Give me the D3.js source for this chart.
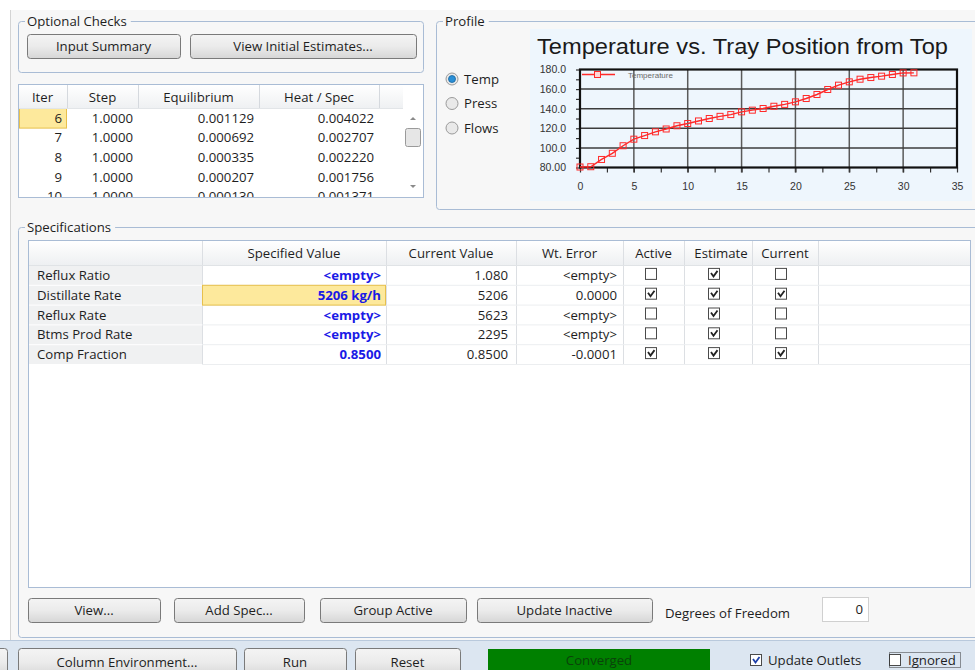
<!DOCTYPE html>
<html>
<head>
<meta charset="utf-8">
<script src="https://cdn.jsdelivr.net/npm/d3@7"></script>
<style>
  body { margin: 0; background: #ffffff; }
  svg { display: block; font-family: "Open Sans", "Noto Sans", sans-serif; }
</style>
</head>
<body>
<svg id="screen" width="975" height="670"></svg>
<script>
// ---- data ----
const temperature = [80.5, 80.8, 88.2, 94.5, 102.2, 108.9, 112.6, 116.4, 119.3, 122.6,
                     124.9, 127.5, 130.0, 132.2, 134.0, 136.8, 138.5, 140.2, 142.5, 144.4,
                     147.0, 150.4, 154.5, 159.6, 164.0, 167.4, 170.1, 171.8, 173.2, 174.9,
                     176.5, 176.6];
const yTicks = [80, 100, 120, 140, 160, 180];
const yTickLabels = ["80.00", "100.0", "120.0", "140.0", "160.0", "180.0"];
const xTicks = [0, 5, 10, 15, 20, 25, 30, 35];

const iterHeaders = ["Iter", "Step", "Equilibrium", "Heat / Spec"];
const iterRows = [
  ["6", "1.0000", "0.001129", "0.004022"],
  ["7", "1.0000", "0.000692", "0.002707"],
  ["8", "1.0000", "0.000335", "0.002220"],
  ["9", "1.0000", "0.000207", "0.001756"],
  ["10", "1.0000", "0.000130", "0.001371"]
];

const specHeaders = ["", "Specified Value", "Current Value", "Wt. Error", "Active", "Estimate", "Current", ""];
const specNames = ["Reflux Ratio", "Distillate Rate", "Reflux Rate", "Btms Prod Rate", "Comp Fraction"];
const specSpecified = ["<empty>", "5206 kg/h", "<empty>", "<empty>", "0.8500"];
const specCurrent = ["1.080", "5206", "5623", "2295", "0.8500"];
const specWtError = ["<empty>", "0.0000", "<empty>", "<empty>", "-0.0001"];
const specActive = [false, true, false, false, true];
const specEstimate = [true, true, true, true, true];
const specCurrentChk = [false, true, false, false, true];

const profileOptions = ["Temp", "Press", "Flows"];
const specButtons = ["View...", "Add Spec...", "Group Active", "Update Inactive"];
const footerButtons = ["Column Environment...", "Run", "Reset"];

const FS = 13.2; // UI font size

// ---- page ----
const svg = d3.select("#screen");
const defs = svg.append("defs");

const btnGrad = defs.append("linearGradient").attr("id", "btnGrad")
    .attr("x1", 0).attr("y1", 0).attr("x2", 0).attr("y2", 1);
btnGrad.append("stop").attr("offset", "0%").attr("stop-color", "#f4f4f4");
btnGrad.append("stop").attr("offset", "50%").attr("stop-color", "#ebebeb");
btnGrad.append("stop").attr("offset", "100%").attr("stop-color", "#d6d6d6");

const hdrGrad = defs.append("linearGradient").attr("id", "hdrGrad")
    .attr("x1", 0).attr("y1", 0).attr("x2", 0).attr("y2", 1);
hdrGrad.append("stop").attr("offset", "0%").attr("stop-color", "#ffffff");
hdrGrad.append("stop").attr("offset", "100%").attr("stop-color", "#eef0f2");

// window body
svg.append("rect").attr("x", 10).attr("y", 10).attr("width", 965).attr("height", 630).attr("fill", "#f7f7f7");
svg.append("line").attr("x1", 10.5).attr("x2", 10.5).attr("y1", 10).attr("y2", 640).attr("stroke", "#d4d4d4");
// footer strip
svg.append("rect").attr("x", 0).attr("y", 640).attr("width", 975).attr("height", 30).attr("fill", "#dce6f1");
svg.append("line").attr("x1", 0).attr("x2", 975).attr("y1", 640.5).attr("y2", 640.5).attr("stroke", "#b9c9dc");

function groupBox(x, y, w, h, label) {
  const g = svg.append("g");
  g.append("rect").attr("x", x + 0.5).attr("y", y + 0.5).attr("width", w).attr("height", h)
    .attr("rx", 3).attr("fill", "none").attr("stroke", "#a9bcd5");
  const t = g.append("text").attr("x", x + 9).attr("y", y + 4.5).attr("font-size", FS)
    .attr("fill", "#1e1e1e").text(label);
  const bb = t.node().getBBox();
  g.insert("rect", "text").attr("x", bb.x - 2).attr("y", y - 2).attr("width", bb.width + 6)
    .attr("height", 5).attr("fill", "#f7f7f7");
  return g;
}

function button(x, y, w, h, label) {
  const g = svg.append("g");
  g.append("rect").attr("x", x + 0.5).attr("y", y + 0.5).attr("width", w).attr("height", h)
    .attr("rx", 3).attr("fill", "url(#btnGrad)").attr("stroke", "#7a7a7a");
  g.append("text").attr("x", x + w / 2).attr("y", y + h / 2 + 4.5).attr("text-anchor", "middle")
    .attr("font-size", FS).attr("fill", "#1e1e1e").text(label);
}

function checkbox(cx, cy, checked, color) {
  const g = svg.append("g");
  g.append("rect").attr("x", cx - 5.5).attr("y", cy - 5.5).attr("width", 11).attr("height", 11)
    .attr("fill", "#ffffff").attr("stroke", "#4a4a4a");
  if (checked) {
    g.append("path").attr("d", `M${cx - 3},${cy - 1} L${cx - 0.5},${cy + 2.5} L${cx + 3.5},${cy - 3}`)
      .attr("fill", "none").attr("stroke", color || "#222").attr("stroke-width", 1.8);
  }
}

// ---- Optional Checks ----
groupBox(18, 21, 405, 51, "Optional Checks");
button(27, 34, 153, 24, "Input Summary");
button(190, 34, 226, 24, "View Initial Estimates...");

// ---- iteration table ----
const itX = [18, 67, 138, 259, 379, 403];
const itTop = 84, itHdrH = 24, itRowH = 19.6;
const itG = svg.append("g");
itG.append("rect").attr("x", 18.5).attr("y", itTop + 0.5).attr("width", 405).attr("height", 113)
  .attr("fill", "#ffffff").attr("stroke", "#a9bcd5");
itG.append("rect").attr("x", 19).attr("y", itTop + 1).attr("width", 384).attr("height", itHdrH)
  .attr("fill", "url(#hdrGrad)");
itG.selectAll("line.hsep").data(itX.slice(1, 5)).join("line")
  .attr("x1", d => d + 0.5).attr("x2", d => d + 0.5)
  .attr("y1", itTop + 1).attr("y2", itTop + itHdrH).attr("stroke", "#d5d9de");
itG.append("line").attr("x1", 19).attr("x2", 403).attr("y1", itTop + itHdrH + 0.5).attr("y2", itTop + itHdrH + 0.5)
  .attr("stroke", "#e2e5e8");
itG.selectAll("text.hdr").data(iterHeaders).join("text")
  .attr("x", (d, i) => (itX[i] + itX[i + 1]) / 2).attr("y", itTop + 18)
  .attr("text-anchor", "middle").attr("font-size", FS).attr("fill", "#1e1e1e").text(d => d);

defs.append("clipPath").attr("id", "itClip").append("rect")
  .attr("x", 19).attr("y", itTop + itHdrH + 1).attr("width", 384).attr("height", 197 - (itTop + itHdrH + 1));
const itBody = itG.append("g").attr("clip-path", "url(#itClip)");
itBody.append("rect").attr("x", 19.5).attr("y", itTop + itHdrH + 0.5).attr("width", 47).attr("height", itRowH)
  .attr("fill", "#fde99c").attr("stroke", "#e7c04c");
iterRows.forEach((row, r) => {
  const yc = itTop + itHdrH + itRowH * r + itRowH / 2;
  itBody.selectAll(null).data(row).join("text")
    .attr("x", (d, i) => itX[i + 1] - 5).attr("y", yc + 5)
    .attr("text-anchor", "end").attr("font-size", FS).attr("fill", "#1e1e1e").text(d => d);
});
// scrollbar
itG.append("path").attr("d", "M410,120 L413,117 L416,120 Z").attr("fill", "#8a8a8a");
itG.append("rect").attr("x", 405.5).attr("y", 128.5).attr("width", 15).attr("height", 18)
  .attr("rx", 2).attr("fill", "#e6e6e6").attr("stroke", "#9a9a9a");
itG.append("path").attr("d", "M410,185 L413,188 L416,185 Z").attr("fill", "#8a8a8a");

// ---- Profile ----
groupBox(436, 21, 545, 188, "Profile");
profileOptions.forEach((lab, i) => {
  const cy = 79 + i * 24.5;
  svg.append("circle").attr("cx", 452).attr("cy", cy).attr("r", 6)
    .attr("fill", "#e9e9e9").attr("stroke", "#9a9a9a");
  if (i === 0) {
    svg.append("circle").attr("cx", 452).attr("cy", cy).attr("r", 3.5).attr("fill", "#2a8fd6")
      .attr("stroke", "#15639e").attr("stroke-width", 0.8);
  }
  svg.append("text").attr("x", 464).attr("y", cy + 4.5).attr("font-size", FS)
    .attr("fill", "#1e1e1e").text(lab);
});

// chart
const chart = svg.append("g").attr("font-family", "'Liberation Sans', Arial, sans-serif");
chart.append("rect").attr("x", 530).attr("y", 29).attr("width", 442).attr("height", 172).attr("fill", "#eef6fd");
chart.append("text").attr("x", 537).attr("y", 54).attr("font-size", 22.5).attr("fill", "#1a1a1a")
  .attr("textLength", 411).attr("lengthAdjust", "spacingAndGlyphs")
  .text("Temperature vs. Tray Position from Top");

const x = d3.scaleLinear().domain([0, 35]).range([580, 957]);
const y = d3.scaleLinear().domain([80, 180]).range([167.5, 69.5]);

// grid
chart.selectAll("line.vg").data(xTicks.slice(1, -1)).join("line")
  .attr("x1", d => x(d)).attr("x2", d => x(d)).attr("y1", y(180)).attr("y2", y(80) + 5)
  .attr("stroke", "#5a5a5a").attr("stroke-width", 1.5);
chart.selectAll("line.hg").data(yTicks.slice(1, -1)).join("line")
  .attr("x1", x(0)).attr("x2", x(35)).attr("y1", d => y(d)).attr("y2", d => y(d))
  .attr("stroke", "#3c3c3c").attr("stroke-width", 1.5);

// axes
const yAxis = chart.append("g").attr("transform", `translate(${x(0)},0)`)
  .call(d3.axisLeft(y).tickValues(d3.range(80, 181, 10)).tickSize(4).tickPadding(10)
    .tickFormat(d => { const k = yTicks.indexOf(d); return k >= 0 ? yTickLabels[k] : ""; }));
const xAxis = chart.append("g").attr("transform", `translate(0,${y(80)})`)
  .call(d3.axisBottom(x).tickValues(d3.range(0, 35.1, 2.5)).tickSize(5).tickPadding(10)
    .tickFormat(d => xTicks.includes(d) ? d : ""));
[yAxis, xAxis].forEach(a => {
  a.select(".domain").remove();
  a.selectAll(".tick line").attr("stroke", "#333").attr("stroke-width", 1.2);
  a.selectAll(".tick text").attr("font-size", 10.5).attr("fill", "#333")
    .attr("font-family", "'Liberation Sans', Arial, sans-serif");
});

chart.append("rect").attr("x", x(0)).attr("y", y(180)).attr("width", x(35) - x(0)).attr("height", y(80) - y(180))
  .attr("fill", "none").attr("stroke", "#111").attr("stroke-width", 2.2);

// series
const line = d3.line().x((d, i) => x(i)).y(d => y(d));
chart.append("path").datum(temperature).attr("d", line)
  .attr("fill", "none").attr("stroke", "#ff2a2a").attr("stroke-width", 1.4);
chart.selectAll("rect.mk").data(temperature).join("rect")
  .attr("x", (d, i) => x(i) - 3).attr("y", d => y(d) - 3).attr("width", 6).attr("height", 6)
  .attr("fill", "none").attr("stroke", "#ff2a2a").attr("stroke-width", 1);

// legend
chart.append("line").attr("x1", 582).attr("x2", 615).attr("y1", 74.5).attr("y2", 74.5)
  .attr("stroke", "#ff2a2a").attr("stroke-width", 1.4);
chart.append("rect").attr("x", 594.5).attr("y", 71.5).attr("width", 6).attr("height", 6)
  .attr("fill", "#ffd6d6").attr("stroke", "#ff2a2a");
chart.append("text").attr("x", 628).attr("y", 77.5).attr("font-size", 8).attr("fill", "#6a6a6a")
  .text("Temperature");

// ---- Specifications ----
groupBox(18, 227, 960, 410, "Specifications");
const spX = [28, 202, 386, 516, 623, 684, 752, 818, 970];
const spTop = 240, spHdrH = 25, spRowH = 19.8;
const spG = svg.append("g");
spG.append("rect").attr("x", 28.5).attr("y", spTop + 0.5).attr("width", 942).attr("height", 347)
  .attr("fill", "#ffffff").attr("stroke", "#a9bcd5");
spG.append("rect").attr("x", 29).attr("y", spTop + 1).attr("width", 941).attr("height", spHdrH - 1)
  .attr("fill", "url(#hdrGrad)");
spG.selectAll("line.sep").data(spX.slice(1, 8)).join("line")
  .attr("x1", d => d + 0.5).attr("x2", d => d + 0.5)
  .attr("y1", spTop + 1).attr("y2", spTop + spHdrH + spRowH * specNames.length)
  .attr("stroke", "#dcdfe3");
specHeaders.forEach((h, i) => {
  if (!h) return;
  defs.append("clipPath").attr("id", "spc" + i).append("rect")
    .attr("x", spX[i] + 1).attr("y", spTop).attr("width", spX[i + 1] - spX[i] - 2).attr("height", spHdrH);
  spG.append("text").attr("clip-path", `url(#spc${i})`)
    .attr("x", (spX[i] + spX[i + 1]) / 2 + (h === "Estimate" ? 3 : 0)).attr("y", spTop + 18)
    .attr("text-anchor", "middle").attr("font-size", FS).attr("fill", "#1e1e1e").text(h);
});
spG.append("line").attr("x1", 29).attr("x2", 970).attr("y1", spTop + spHdrH + 0.5).attr("y2", spTop + spHdrH + 0.5)
  .attr("stroke", "#e0e3e6");

specNames.forEach((name, r) => {
  const y0 = spTop + spHdrH + spRowH * r;
  const yc = y0 + spRowH / 2;
  spG.append("rect").attr("x", 29).attr("y", y0 + 1).attr("width", spX[1] - 29).attr("height", spRowH - 1)
    .attr("fill", "#f0f1f2");
  spG.append("line").attr("x1", spX[1]).attr("x2", 970).attr("y1", y0 + spRowH + 0.5).attr("y2", y0 + spRowH + 0.5)
    .attr("stroke", "#eceef0");
  spG.append("text").attr("x", 37).attr("y", yc + 5).attr("font-size", FS).attr("fill", "#1e1e1e").text(name);
  if (r === 1) {
    spG.append("rect").attr("x", spX[1] + 0.5).attr("y", y0 + 0.5).attr("width", spX[2] - spX[1] - 1).attr("height", spRowH)
      .attr("fill", "#fde99c").attr("stroke", "#e7c04c");
  }
  spG.append("text").attr("x", spX[2] - 5).attr("y", yc + 5).attr("text-anchor", "end")
    .attr("font-size", FS).attr("font-weight", "bold").attr("fill", "#1a1ae6").text(specSpecified[r]);
  spG.append("text").attr("x", spX[3] - 8).attr("y", yc + 5).attr("text-anchor", "end")
    .attr("font-size", FS).attr("fill", "#1e1e1e").text(specCurrent[r]);
  spG.append("text").attr("x", spX[4] - 6).attr("y", yc + 5).attr("text-anchor", "end")
    .attr("font-size", FS).attr("fill", "#1e1e1e").text(specWtError[r]);
  checkbox(651, yc - 1, specActive[r]);
  checkbox(714, yc - 1, specEstimate[r]);
  checkbox(781, yc - 1, specCurrentChk[r]);
});

// spec buttons
const sbX = [[28, 132], [174, 130], [320, 146], [477, 175]];
specButtons.forEach((lab, i) => button(sbX[i][0], 598, sbX[i][1], 24, lab));
svg.append("text").attr("x", 665).attr("y", 618).attr("font-size", FS).attr("fill", "#1e1e1e").text("Degrees of Freedom");
svg.append("rect").attr("x", 822.5).attr("y", 597.5).attr("width", 46).attr("height", 24)
  .attr("fill", "#ffffff").attr("stroke", "#d0d0d0");
svg.append("text").attr("x", 863).attr("y", 614).attr("text-anchor", "end").attr("font-size", FS)
  .attr("fill", "#1e1e1e").text("0");

// ---- footer ----
button(-20, 648, 27, 28, "");
const fbX = [[18, 218], [244, 102], [355, 105]];
footerButtons.forEach((lab, i) => button(fbX[i][0], 648, fbX[i][1], 28, lab));
svg.append("rect").attr("x", 488).attr("y", 649).attr("width", 222).attr("height", 22).attr("fill", "#008000");
svg.append("text").attr("x", 599).attr("y", 665).attr("text-anchor", "middle").attr("font-size", FS)
  .attr("fill", "#0a420a").text("Converged");
checkbox(756, 660, true, "#1c3fa8");
svg.append("text").attr("x", 768).attr("y", 665).attr("font-size", FS).attr("fill", "#1e1e1e").text("Update Outlets");
checkbox(895, 660, false);
svg.append("rect").attr("x", 889.5).attr("y", 652.5).attr("width", 71).attr("height", 15)
  .attr("fill", "none").attr("stroke", "#333").attr("stroke-dasharray", "1,1");
svg.append("text").attr("x", 908).attr("y", 665).attr("font-size", FS).attr("fill", "#1e1e1e").text("Ignored");
</script>
</body>
</html>
